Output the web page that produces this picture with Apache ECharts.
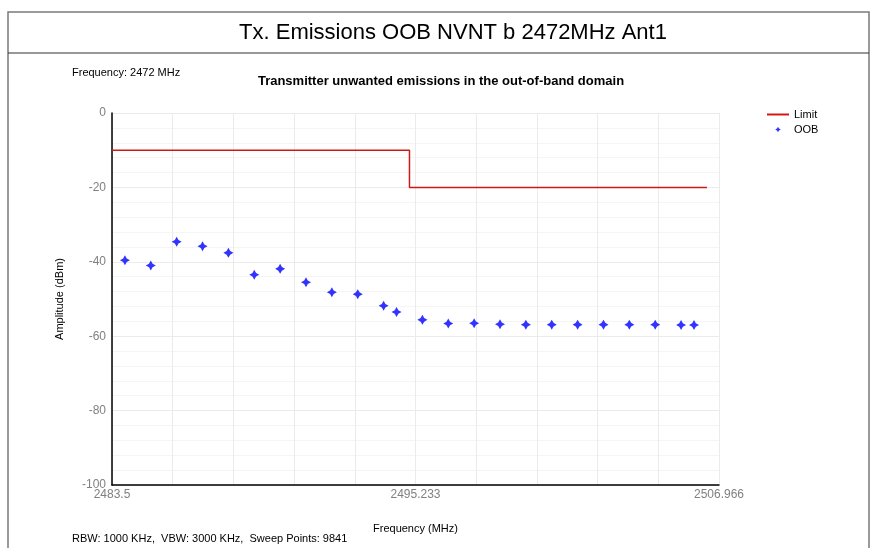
<!DOCTYPE html>
<html>
<head>
<meta charset="utf-8">
<script src="https://cdn.jsdelivr.net/npm/echarts@6/dist/echarts.min.js"></script>
<style>
html,body{margin:0;padding:0;background:#fff;}
#chart{width:876px;height:548px;}
</style>
</head>
<body>
<div id="chart"></div>
<script>
// ---- data ----
var chartTitle = 'Tx. Emissions OOB NVNT b 2472MHz Ant1';
var subTitle = 'Transmitter unwanted emissions in the out-of-band domain';
var freqNote = 'Frequency: 2472 MHz';
var bwNote = 'RBW: 1000 KHz,  VBW: 3000 KHz,  Sweep Points: 9841';
var xAxisName = 'Frequency (MHz)';
var yAxisName = 'Amplitude (dBm)';

var xTickLabels = [2483.5, 2495.233, 2506.966];
var yTicks = [-100, -80, -60, -40, -20, 0];

var oobFreq = [2484, 2485, 2486, 2487, 2488, 2489, 2490, 2491, 2492, 2493, 2494, 2494.5,
               2495.5, 2496.5, 2497.5, 2498.5, 2499.5, 2500.5, 2501.5, 2502.5, 2503.5, 2504.5, 2505.5, 2506];
var oobLevel = [-39.6, -41.0, -34.6, -35.8, -37.6, -43.5, -41.9, -45.5, -48.2, -48.7, -51.8, -53.5,
                -55.6, -56.6, -56.5, -56.8, -56.9, -56.9, -56.9, -56.9, -56.9, -56.9, -57.0, -57.0];

var limitFreq = [2483.5, 2495.0, 2495.0, 2506.5];
var limitLevel = [-10, -10, -20, -20];

// ---- build ----
var xMin = xTickLabels[0], xMax = xTickLabels[xTickLabels.length - 1];
var xGridDiv = 10;
var xGridValues = [];
for (var i = 0; i <= xGridDiv; i++) {
  xGridValues.push(xMin + (xMax - xMin) * i / xGridDiv);
}
var oobData = oobFreq.map(function (f, i) { return [f, oobLevel[i]]; });
var limitData = limitFreq.map(function (f, i) { return [f, limitLevel[i]]; });

var FONT = '"Liberation Sans", Arial, sans-serif';
var STAR = 'path://M0,-10 L3.6,-3.6 L10,0 L3.6,3.6 L0,10 L-3.6,3.6 L-10,0 L-3.6,-3.6 Z';
var STAR_SMALL = 'path://M-16,-16 M0,-10 L3.6,-3.6 L10,0 L3.6,3.6 L0,10 L-3.6,3.6 L-10,0 L-3.6,-3.6 Z M16,16';
var LINE_ICON = 'path://M0,0 L22,0 L22,2 L0,2 Z';

var chart = echarts.init(document.getElementById('chart'), null, {renderer: 'canvas'});

var option = {
  animation: false,
  backgroundColor: '#ffffff',
  textStyle: {fontFamily: FONT},
  grid: {left: 112, top: 113, right: 157, bottom: 63, containLabel: false},
  legend: {
    orient: 'vertical',
    left: 767,
    top: 109,
    padding: 0,
    itemGap: 4,
    itemWidth: 22,
    itemHeight: 9,
    textStyle: {fontFamily: FONT, fontSize: 11, color: '#000'},
    data: [
      {name: 'Limit', icon: LINE_ICON},
      {name: 'OOB', icon: STAR_SMALL}
    ]
  },
  xAxis: {
    type: 'value',
    min: xMin,
    max: xMax,
    axisLine: {show: true, onZero: false, lineStyle: {color: '#000', width: 1.5}},
    axisTick: {show: false, customValues: xGridValues},
    axisLabel: {
      customValues: xTickLabels,
      formatter: function (v) { return String(v); },
      color: '#808080', fontSize: 12, fontFamily: FONT, margin: 4
    },
    splitLine: {show: true, lineStyle: {color: '#ebebeb', width: 1}},
    name: xAxisName,
    nameLocation: 'middle',
    nameGap: 38,
    nameTextStyle: {color: '#000', fontSize: 11, fontFamily: FONT}
  },
  yAxis: {
    type: 'value',
    min: yTicks[0],
    max: yTicks[yTicks.length - 1],
    interval: 20,
    axisLine: {show: true, onZero: false, lineStyle: {color: '#000', width: 1.5}},
    axisTick: {show: false},
    axisLabel: {color: '#808080', fontSize: 12, fontFamily: FONT, margin: 6},
    splitLine: {show: true, lineStyle: {color: '#ebebeb', width: 1}},
    minorTick: {show: false, splitNumber: 5},
    minorSplitLine: {show: true, lineStyle: {color: '#f5f5f5', width: 1}},
    name: yAxisName,
    nameLocation: 'middle',
    nameRotate: 90,
    nameGap: 47,
    nameTextStyle: {color: '#000', fontSize: 11, fontFamily: FONT}
  },
  series: [
    {
      name: 'Limit',
      type: 'line',
      data: limitData,
      symbol: 'none',
      showSymbol: false,
      lineStyle: {color: '#d01818', width: 1.5},
      itemStyle: {color: '#d01818'},
      z: 3
    },
    {
      name: 'OOB',
      type: 'scatter',
      data: oobData,
      symbol: STAR,
      symbolSize: 10,
      itemStyle: {color: '#0000ff'},
      z: 4
    }
  ],
  graphic: [
    {type: 'rect', shape: {x: 8, y: 12, width: 861, height: 600},
     style: {fill: 'none', stroke: '#7a7a7a', lineWidth: 1.5}, silent: true, z: -1},
    {type: 'line', shape: {x1: 8, y1: 53, x2: 869, y2: 53},
     style: {stroke: '#333', lineWidth: 1.2}, silent: true},
    {type: 'text', x: 453, y: 33, z: 10,
     style: {text: chartTitle, fill: '#000', font: '22px ' + FONT, textAlign: 'center', textVerticalAlign: 'middle'}},
    {type: 'text', x: 72, y: 73,
     style: {text: freqNote, fill: '#000', font: '11px ' + FONT, textVerticalAlign: 'middle'}},
    {type: 'text', x: 441, y: 81,
     style: {text: subTitle, fill: '#000', font: 'bold 13px ' + FONT, textAlign: 'center', textVerticalAlign: 'middle'}},
    {type: 'text', x: 72, y: 539,
     style: {text: bwNote, fill: '#000', font: '11px ' + FONT, textVerticalAlign: 'middle'}}
  ]
};
chart.setOption(option);
</script>
</body>
</html>
